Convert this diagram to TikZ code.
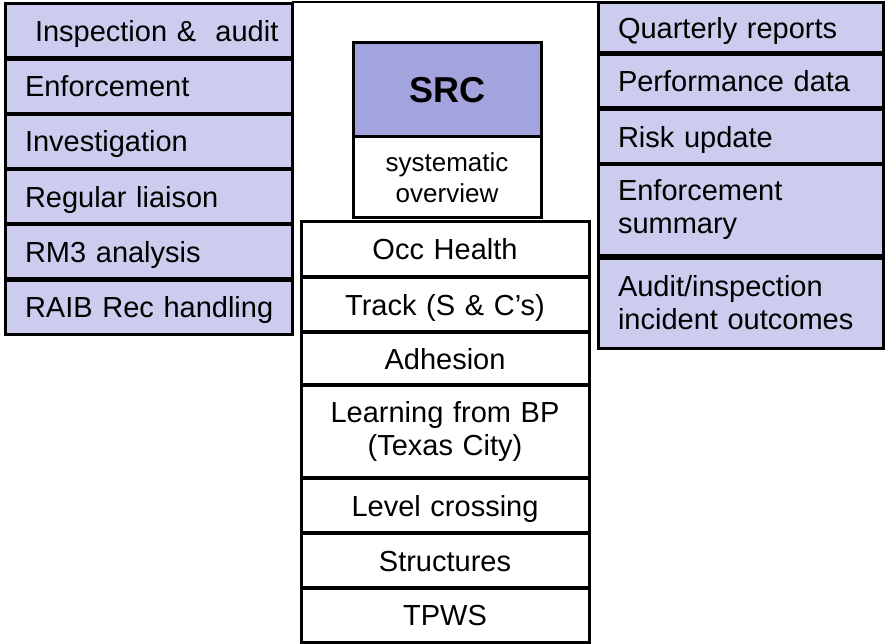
\documentclass[tikz,border=0pt]{standalone}
\usepackage{fontspec}
\setmainfont{Liberation Sans}
\definecolor{lav}{RGB}{204,204,238}
\definecolor{srcfill}{RGB}{163,163,221}
\definecolor{framegray}{RGB}{120,120,120}

\tikzset{
  boxline/.style={draw=black, line width=3pt, inner sep=0pt, outer sep=0pt, anchor=north west},
  mainfont/.style={font=\fontsize{29}{33}\selectfont},
  oneline/.style={text height=21pt, text depth=0pt},
  leftbox/.style={boxline, fill=lav, mainfont, align=left, inner xsep=20pt, text width=247pt, minimum height=54pt},
  rightbox/.style={boxline, fill=lav, mainfont, align=left, inner xsep=20pt, text width=245pt},
  midbox/.style={boxline, fill=white, mainfont, align=center, text width=288pt},
  srcbox/.style={boxline, fill=srcfill, align=center, text width=188pt, minimum height=94pt,
                 font=\fontsize{36}{40}\selectfont\bfseries, text height=26pt, text depth=0pt},
  overbox/.style={boxline, fill=white, align=center, text width=188pt, minimum height=81pt,
                  font=\fontsize{26}{31}\selectfont},
}

\begin{document}
\begin{tikzpicture}[x=1pt, y=-1pt]
\useasboundingbox (0,0) rectangle (885,644);
\fill[white] (0,0) rectangle (885,644);

% open frame behind the central column
\draw[line width=2.5pt] (293,220) -- (293,2) -- (597,2);
\draw[framegray, line width=1pt] (597,2) -- (597,110);

% left column: regulatory activities
\node[leftbox, oneline] (insp)  at (5,4)     {\hspace*{10pt}\mbox{Inspection \&\ \ audit}};
\node[leftbox, oneline] (enf)   at (5,59.2)  {Enforcement};
\node[leftbox, oneline] (inv)   at (5,114.4) {Investigation};
\node[leftbox, oneline] (liais) at (5,169.6) {Regular liaison};
\node[leftbox, oneline] (rm3)   at (5,224.8) {RM3 analysis};
\node[leftbox, oneline] (raib)  at (5,280)   {\mbox{RAIB Rec handling}};

% right column: reporting
\node[rightbox, oneline, minimum height=50pt] (quart) at (598,3)   {Quarterly reports};
\node[rightbox, oneline, minimum height=53pt] (perf)  at (598,55)  {Performance data};
\node[rightbox, oneline, minimum height=54pt] (risk)  at (598,110) {Risk update};
\node[rightbox, minimum height=90pt] (enfsum) at (598,165) {Enforcement\\summary};
\node[rightbox, minimum height=90pt] (audit)  at (598,258) {Audit/inspection\\incident outcomes};

% centre: SRC and its topics
\node[srcbox] (src) at (353,43) {SRC};
\node[overbox] (sysov) at (353,137) {systematic\\overview};

\node[midbox, oneline, minimum height=54.5pt] (occ)    at (301,222)   {Occ Health};
\node[midbox, oneline, minimum height=54pt]   (track)  at (301,277.5) {Track (S \& C’s)};
\node[midbox, oneline, minimum height=52pt]   (adh)    at (301,332.5) {Adhesion};
\node[midbox, minimum height=92pt]            (bp)     at (301,385.5) {Learning from BP\\(Texas City)};
\node[midbox, oneline, minimum height=54pt]   (level)  at (301,478.5) {Level crossing};
\node[midbox, oneline, minimum height=54pt]   (struct) at (301,533.5) {Structures};
\node[midbox, oneline, minimum height=53.5pt] (tpws)   at (301,588.5) {TPWS};
\end{tikzpicture}
\end{document}
